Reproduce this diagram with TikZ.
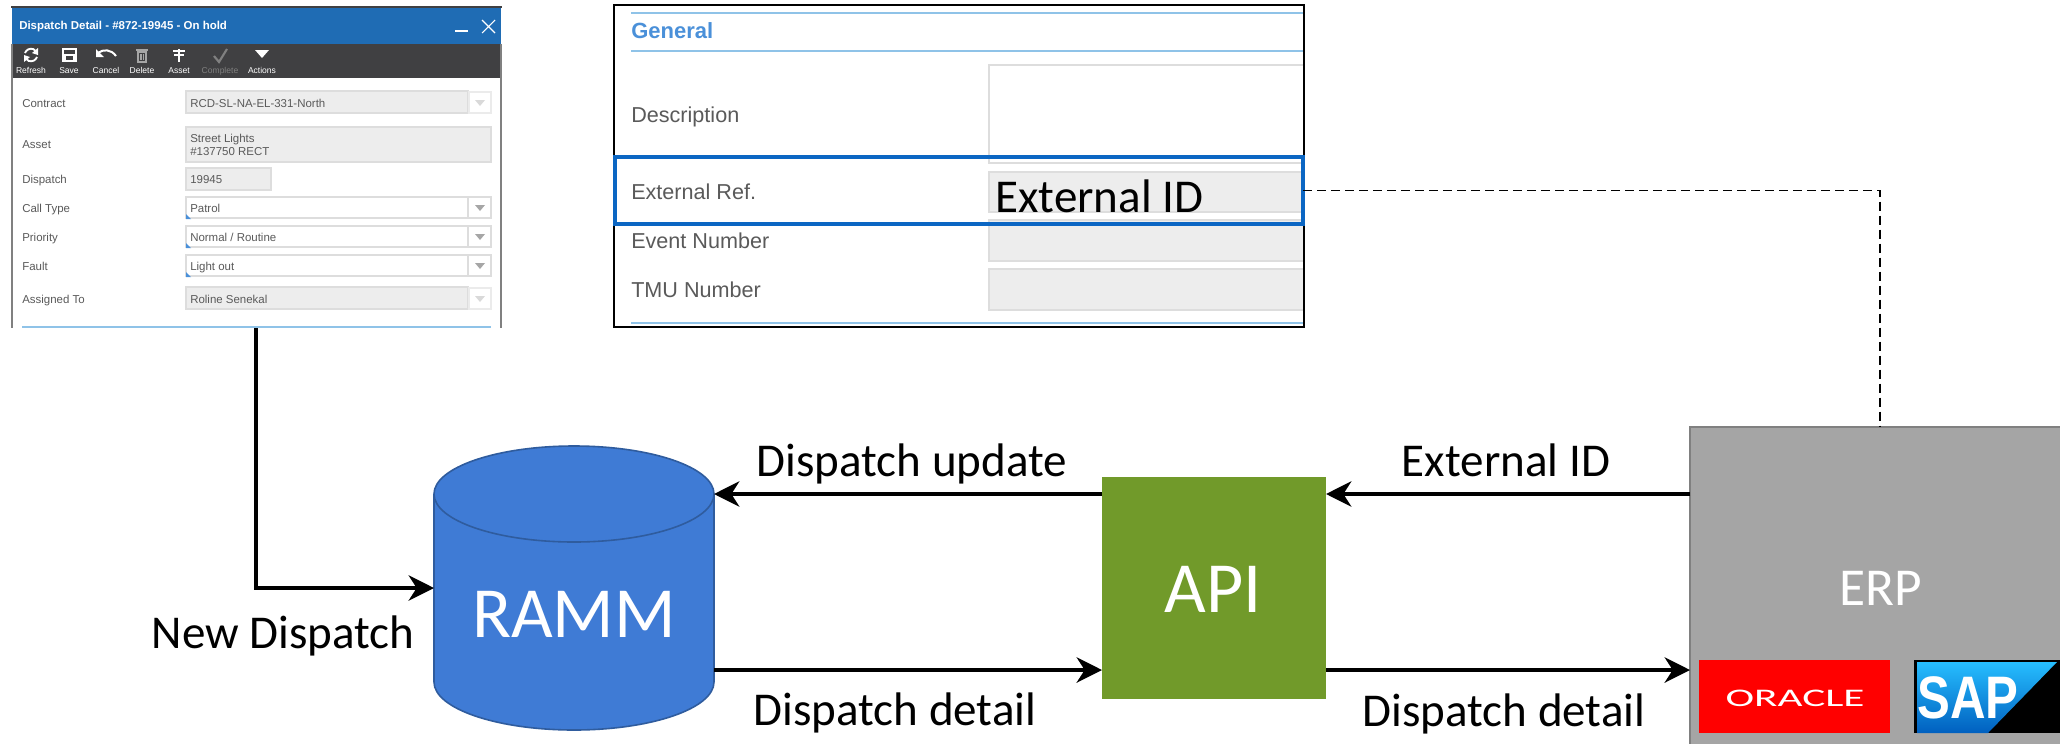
\documentclass[tikz,border=0pt]{standalone}
\usepackage{fontspec}
\setmainfont{Carlito}
\newfontfamily\uifont{Liberation Sans}
\usetikzlibrary{arrows.meta}
\newcommand{\fsz}[1]{\fontsize{#1}{#1}\selectfont}
\definecolor{rammblue}{HTML}{3F7BD5}
\definecolor{rammedge}{HTML}{2F5C9E}
\definecolor{apigreen}{HTML}{719A2A}
\definecolor{erpgrey}{HTML}{A5A5A5}
\definecolor{winblue}{HTML}{1F6CB4}
\definecolor{bardark}{HTML}{404042}
\definecolor{fieldgrey}{HTML}{EDEDED}
\definecolor{fieldedge}{HTML}{DDDDDD}
\definecolor{uitext}{HTML}{5A5A5A}
\definecolor{ruleblue}{HTML}{8FC3E8}
\definecolor{headblue}{HTML}{4A90D9}
\definecolor{rowblue}{HTML}{0B66C3}
\tikzset{
  flow/.style={line width=3pt,-{Stealth[length=19pt,width=19pt,inset=6pt]}},
  caption/.style={inner sep=0pt,font=\fsz{35.3}},
  boxtext/.style={inner sep=0pt,text=white},
  uilabel/.style={inner sep=0pt,anchor=west,text=uitext,text height=6.2pt,text depth=1.8pt,font=\uifont\fsz{8.6}},
  toollabel/.style={inner sep=0pt,text=white,text height=4.6pt,text depth=0pt,font=\uifont\fsz{6.4}},
  biglabel/.style={inner sep=0pt,anchor=west,text=uitext,text height=11.7pt,text depth=3.3pt,font=\uifont\fsz{16.2}},
  inputbox/.style={fill=fieldgrey,draw=fieldedge,line width=0.8pt},
}
\begin{document}
\begin{tikzpicture}[x=0.75pt,y=-0.75pt]
\clip (0,0) rectangle (2060,743);
\fill[white] (0,0) rectangle (2060,743);
% dispatch window
\node[minimum width=367.5pt,minimum height=241.5pt,inner sep=0pt,outer sep=0pt] (win) at (256,167) {};
\fill[winblue] (12,8) rectangle (501,44);
\fill[bardark] (12,44) rectangle (501,78);
\draw[bardark,line width=1.5pt] (11,7) -- (502,7);
\draw[gray,line width=0.8pt] (12,44) -- (12,328);
\draw[gray,line width=0.8pt] (501,44) -- (501,328);
\node[inner sep=0pt,anchor=west,text=white,font=\uifont\bfseries\fsz{8.6}] (wintitle) at (19,27) {Dispatch Detail - \#872-19945 - On hold};
\draw[white,line width=1.2pt] (455,31) -- (468,31);
\draw[white,line width=0.8pt] (482,20) -- (495,33) (495,20) -- (482,33);
\foreach \x/\t [count=\i] in {31/Refresh,69/Save,106/Cancel,142/Delete,179/Asset,262/Actions} {
  \node[toollabel] (tool\i) at (\x,70) {\t};}
\node[toollabel,text=gray] (toolcomplete) at (220,70) {Complete};
% toolbar icons
\draw[white,line width=1.4pt] (25,53) arc (200:330:6.5) (37,57) arc (20:150:6.5);
\fill[white] (38,48) -- (38,55) -- (32,53) -- cycle (24,62) -- (24,55) -- (30,57) -- cycle;
\draw[white,line width=0.9pt] (63,49) rectangle (76,61) (65,55) rectangle (74,61);
\draw[white,line width=1.5pt] (98,53) .. controls (103,49) and (111,49) .. (116,56);
\fill[white] (96,49) -- (96,57) -- (104,57) -- cycle;
\draw[gray!70!white,line width=0.9pt] (138,52) rectangle (146,62) (136,50) -- (148,50) (141,54) -- (141,60) (143.5,54) -- (143.5,60);
\draw[white,line width=1.3pt] (179,49) -- (179,62) (173,51) -- (185,51) (174,55) -- (184,55);
\draw[gray,line width=1.6pt] (214,56) -- (219,62) -- (227,49);
\fill[white] (255,50) -- (269,50) -- (262,58) -- cycle;
% fields of the window
\foreach \y/\t [count=\i] in {104.5/Contract,145.5/Asset,180.5/Dispatch,209.5/Call Type,238.5/Priority,267.5/Fault,300.5/Assigned To} {
  \node[uilabel] (winlabel\i) at (22,\y) {\t};}
\foreach \a/\b/\c/\d in {186/91/468/113,186/127/491/162,186/168/271/190,186/287/468/309} {
  \draw[inputbox] (\a,\b) rectangle (\c,\d);}
\foreach \a in {197,226,255} {
  \draw[fieldedge,line width=0.8pt] (186,\a) rectangle (491,\a+21);
  \draw[fieldedge,line width=0.8pt] (468,\a) -- (468,\a+21);
  \fill[gray!70!white] (475,\a+8) -- (485,\a+8) -- (480,\a+14) -- cycle;
  \fill[headblue] (186,\a+17) -- (186,\a+22) -- (191,\a+22) -- cycle;}
\foreach \a in {92,288} {
  \draw[fieldedge!60!white,line width=0.8pt] (469,\a) rectangle (491,\a+21);
  \fill[gray!30!white] (475,\a+8) -- (485,\a+8) -- (480,\a+14) -- cycle;}
\foreach \y/\t [count=\i] in {104.5/RCD-SL-NA-EL-331-North,139.5/Street Lights,152.5/\#137750 RECT,180.5/19945,209.5/Patrol,238.5/{Normal / Routine},267.5/Light out,300.5/Roline Senekal} {
  \node[uilabel] (winvalue\i) at (190,\y) {\t};}
\draw[ruleblue,line width=0.8pt] (22,327) -- (491,327);
% general panel
\node[draw,line width=1.5pt,minimum width=517.5pt,minimum height=241.5pt,inner sep=0pt,outer sep=0pt] (panel) at (959,166) {};
\foreach \y in {13,51,323} {
  \draw[ruleblue,line width=1.2pt] (631,\y) -- (1303,\y);}
\node[inner sep=0pt,anchor=west,text=headblue,font=\uifont\bfseries\fsz{16.5}] (general) at (631,31) {General};
\draw[fieldedge,line width=1pt] (1303,65) -- (989,65) -- (989,163) -- (1303,163);
\foreach \a/\b in {172/212,220/261,269/310} {
  \fill[fieldgrey] (989,\a) rectangle (1303,\b);
  \draw[fieldedge,line width=1pt] (1303,\a) -- (989,\a) -- (989,\b) -- (1303,\b);}
\foreach \y/\t [count=\i] in {117/Description,194/External Ref.,243/Event Number,292/TMU Number} {
  \node[biglabel] (panellabel\i) at (631,\y) {\t};}
\node[inner sep=0pt,anchor=west,font=\fsz{35.3}] (fieldid) at (995,196) {External ID};
\node[draw=rowblue,line width=3.2pt,minimum width=516pt,minimum height=50pt,inner sep=0pt,outer sep=0pt] (extrow) at (959,190.5) {};
% main boxes
\node[minimum width=210pt,minimum height=213pt,inner sep=0pt,outer sep=0pt] (ramm) at (574,588) {};
\draw[rammedge,line width=1.2pt,fill=rammblue] (434,494) -- (434,682) arc (180:0:140 and 48) -- (714,494);
\draw[rammedge,line width=1.2pt,fill=rammblue] (574,494) ellipse (140 and 48);
\node[boxtext,font=\fsz{54}] (rammtext) at (574,614) {RAMM};
\node[fill=apigreen,minimum width=168pt,minimum height=166.5pt,inner sep=0pt,outer sep=0pt] (api) at (1214,588) {};
\node[boxtext,font=\fsz{54}] (apitext) at (1213,589) {API};
\node[fill=erpgrey,draw=gray,line width=1.2pt,minimum width=285pt,minimum height=255pt,inner sep=0pt,outer sep=0pt] (erp) at (1880,597) {};
\node[boxtext,font=\fsz{40}] (erptext) at (1881,588) {ERP};
% logos
\node[fill=red,minimum width=143pt,minimum height=55pt,inner sep=0pt] (oracle) at (1794.5,696.5) {};
\node[boxtext,font=\fsz{20}] (oracletext) at (1795,698) {\scalebox{1.62}[0.95]{ORACLE}};
\node[fill=black,minimum width=110pt,minimum height=55pt,inner sep=0pt] (sap) at (1987,696.5) {};
\shade[top color=cyan!70!blue!85!white,bottom color=blue!50!cyan!75!black] (1917,662) -- (2057,662) -- (1988,733) -- (1917,733) -- cycle;
\node[boxtext,font=\uifont\bfseries\fsz{45}] (saptext) at (1968,698) {\scalebox{0.82}[1]{SAP}};
% connectors
\coordinate (upper) at (0,494);
\coordinate (lower) at (0,670);
\draw[flow] (win.south) |- (ramm.west);
\draw[flow] (api.west |- upper) -- (ramm.east |- upper);
\draw[flow] (erp.west |- upper) -- (api.east |- upper);
\draw[flow] (ramm.east |- lower) -- (api.west |- lower);
\draw[flow] (api.east |- lower) -- (erp.west |- lower);
\draw[dash pattern=on 7pt off 3.5pt,line width=0.9pt] (extrow.east) -| (erp.north);
% captions
\node[caption] (newdispatch) at (283,636) {New Dispatch};
\node[caption] (dispatchupdate) at (912,464) {Dispatch update};
\node[caption] (dispatchdetail) at (895,713) {Dispatch detail};
\node[caption] (externalid) at (1506,460) {External ID};
\node[caption] (erpdetail) at (1504,714) {Dispatch detail};
\end{tikzpicture}
\end{document}
